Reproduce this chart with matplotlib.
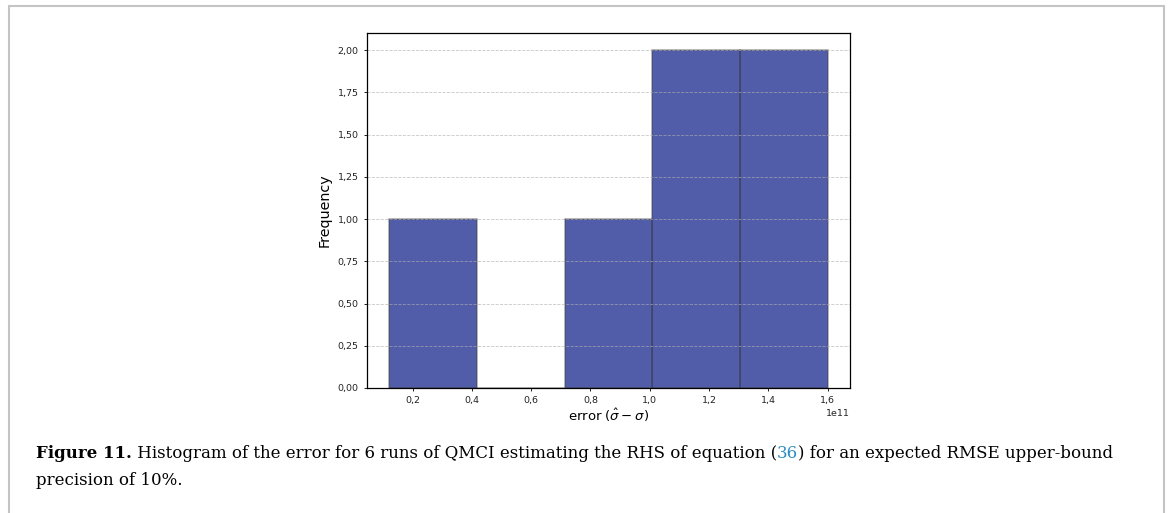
import matplotlib
matplotlib.use("Agg")
import matplotlib.pyplot as plt
from matplotlib.ticker import ScalarFormatter, MultipleLocator, FuncFormatter
from matplotlib.patches import Rectangle

# Data: error of 6 QMCI runs (sigma_hat - sigma)
errors = [0.1206e11, 0.78e11, 1.10e11, 1.25e11, 1.40e11, 1.601e11]
n_bins = 5
x_label = r"error ($\hat{\sigma} - \sigma$)"
y_label = "Frequency"
caption_line1 = [
    ("Figure 11.", "bold", "black"),
    (" Histogram of the error for 6 runs of QMCI estimating the RHS of equation (", "normal", "black"),
    ("36", "normal", "#2b8cc4"),
    (") for an expected RMSE upper-bound", "normal", "black"),
]
caption_line2 = "precision of 10%."


class CommaFormatter(ScalarFormatter):
    def __call__(self, x, pos=None):
        return super().__call__(x, pos).replace(".", ",")


fig = plt.figure(figsize=(11.68, 5.13), dpi=100)
W, H = 1168, 513

ax = fig.add_axes([367 / W, 1 - 388 / H, (850 - 367) / W, (388 - 33.3) / H])
ax.hist(errors, bins=n_bins, facecolor=(0.035, 0.098, 0.525, 0.7),
        edgecolor=(0.25, 0.25, 0.25, 0.45), linewidth=1.2)
ax.grid(axis="y", linestyle="--", color="#b0b0b0", alpha=0.7, linewidth=0.6)

ax.xaxis.set_major_formatter(CommaFormatter(useOffset=True))
ax.yaxis.set_major_locator(MultipleLocator(0.25))
ax.yaxis.set_major_formatter(FuncFormatter(lambda v, p: f"{v:.2f}".replace(".", ",")))

ax.tick_params(labelsize=6.8, length=2.5, width=0.7, colors="#222222")
ax.xaxis.get_offset_text().set_fontsize(6.8)
ax.set_xlabel(x_label, fontsize=9.5, labelpad=1)
ax.set_ylabel(y_label, fontsize=10.3, labelpad=4)
for s in ax.spines.values():
    s.set_linewidth(0.9)

# Caption
fig.canvas.draw()
renderer = fig.canvas.get_renderer()
cap_family = "DejaVu Serif"


def draw_line1(size, measure_only=False):
    x = 36
    y1 = H - 458
    arts = []
    for txt, weight, col in caption_line1:
        t = fig.text(x / W, y1 / H, txt, fontsize=size, fontweight=weight, color=col,
                     family=cap_family, va="baseline", ha="left")
        bb = t.get_window_extent(renderer)
        x = bb.x1
        arts.append(t)
    if measure_only:
        for t in arts:
            t.remove()
    return x


end = draw_line1(12, measure_only=True)
cap_size = 0.99 * 12 * (1123 - 36) / (end - 36)
draw_line1(cap_size)
fig.text(36 / W, (H - 485) / H, caption_line2, fontsize=cap_size,
         family=cap_family, va="baseline", ha="left")

# Page frame
fig.add_artist(Rectangle((8.5 / W, -0.05), (1164 - 8.5) / W, (H - 6) / H + 0.05,
                         transform=fig.transFigure, fill=False,
                         edgecolor="#c4c4c4", linewidth=1.5))

fig.savefig("out.png", dpi=100)
